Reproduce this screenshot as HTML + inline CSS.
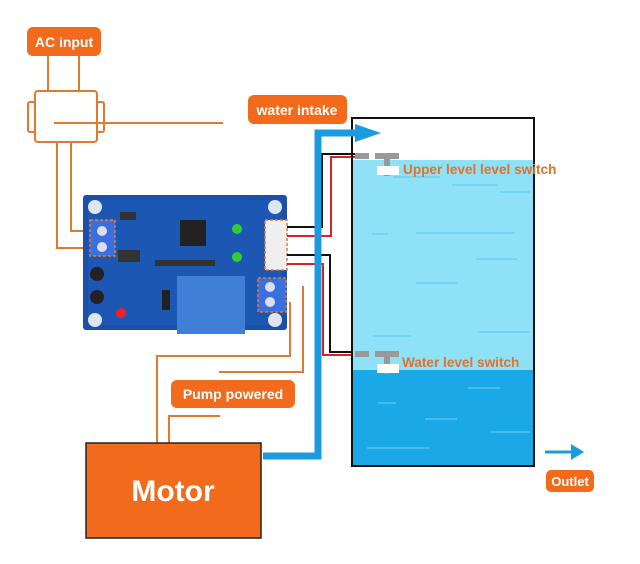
<!DOCTYPE html>
<html><head><meta charset="utf-8"><style>
html,body{margin:0;padding:0;background:#fff;}
svg{display:block;}
text{font-family:"Liberation Sans",sans-serif;font-weight:bold;}
</style></head><body>
<svg width="640" height="564" viewBox="0 0 640 564" xmlns="http://www.w3.org/2000/svg">
<!-- AC input -->
<rect x="27" y="27" width="74" height="29" rx="6" fill="#f26a1b"/>
<text x="64" y="47" font-size="14" fill="#fff" text-anchor="middle">AC input</text>
<g stroke="#e07a30" stroke-width="2" fill="none">
<line x1="48" y1="56" x2="48" y2="90"/>
<line x1="79" y1="56" x2="79" y2="90"/>
<rect x="35" y="91" width="62" height="51" rx="3"/>
<rect x="28" y="102" width="7" height="30" rx="2"/>
<rect x="97" y="102" width="7" height="30" rx="2"/>
<line x1="54" y1="123" x2="223" y2="123"/>
<polyline points="57,142 57,248 92,248"/>
<polyline points="71,142 71,231 92,231"/>
<polyline points="157,443 157,356 290,356 290,302"/>
<polyline points="219,372 303,372 303,286"/>
<polyline points="169,443 169,416 220,416"/>
</g>
<!-- board -->
<rect x="83" y="195" width="204" height="135" rx="3" fill="#1b4fa8"/>
<rect x="88" y="200" width="194" height="125" fill="#2060c0" opacity="0.5"/>
<g fill="#dfe6ee"><circle cx="95" cy="207" r="7"/><circle cx="275" cy="207" r="7"/><circle cx="95" cy="320" r="7"/><circle cx="275" cy="320" r="7"/></g>
<rect x="90" y="220" width="25" height="36" fill="#3a6fe0" stroke="#e07a30" stroke-width="1.5" stroke-dasharray="3,2"/>
<circle cx="102" cy="231" r="5" fill="#dde"/><circle cx="102" cy="247" r="5" fill="#dde"/>
<rect x="180" y="220" width="26" height="26" fill="#222"/>
<circle cx="237" cy="229" r="5" fill="#3c3"/><circle cx="237" cy="257" r="5" fill="#3c3"/>
<circle cx="121" cy="313" r="5" fill="#e22"/>
<circle cx="97" cy="274" r="7" fill="#222"/><circle cx="97" cy="297" r="7" fill="#222"/>
<rect x="177" y="276" width="68" height="58" fill="#3f7fd8"/>
<rect x="162" y="290" width="8" height="20" fill="#222"/>
<rect x="265" y="220" width="22" height="50" fill="#eee" stroke="#e07a30" stroke-width="1.5" stroke-dasharray="3,2"/>
<rect x="258" y="278" width="28" height="34" fill="#3a6fe0" stroke="#e07a30" stroke-width="1.5" stroke-dasharray="3,2"/>
<circle cx="270" cy="287" r="5" fill="#dde"/><circle cx="270" cy="302" r="5" fill="#dde"/>
<g fill="#333"><rect x="155" y="260" width="60" height="6"/><rect x="120" y="212" width="16" height="8"/><rect x="118" y="250" width="22" height="12"/></g>
<!-- level wires -->
<g fill="none" stroke-width="2">
<polyline points="287,227 322,227 322,154 357,154" stroke="#111"/>
<polyline points="287,236 331,236 331,157 357,157" stroke="#d22"/>
<polyline points="287,255 330,255 330,352 357,352" stroke="#111"/>
<polyline points="287,264 323,264 323,355 357,355" stroke="#d22"/>
</g>
<!-- tank -->
<rect x="352" y="160" width="182" height="210" fill="#8fe1f8"/>
<rect x="352" y="370" width="182" height="96" fill="#1aa8e6"/>
<g stroke="#5cc8ee" stroke-width="1">
<line x1="393" y1="177" x2="440" y2="177"/><line x1="452" y1="185" x2="498" y2="185"/><line x1="500" y1="192" x2="530" y2="192"/>
<line x1="372" y1="234" x2="388" y2="234"/><line x1="416" y1="233" x2="515" y2="233"/><line x1="476" y1="259" x2="517" y2="259"/>
<line x1="416" y1="283" x2="457" y2="283"/><line x1="373" y1="336" x2="411" y2="336"/><line x1="478" y1="332" x2="530" y2="332"/>
</g>
<g stroke="#6fd0f2" stroke-width="1">
<line x1="468" y1="388" x2="500" y2="388"/><line x1="378" y1="403" x2="396" y2="403"/><line x1="425" y1="419" x2="457" y2="419"/>
<line x1="491" y1="432" x2="530" y2="432"/><line x1="367" y1="448" x2="430" y2="448"/>
</g>
<rect x="352" y="118" width="182" height="348" fill="none" stroke="#111" stroke-width="2"/>
<!-- switches -->
<g fill="#999">
<rect x="355" y="153" width="14" height="6"/><rect x="375" y="153" width="24" height="6"/><rect x="384" y="159" width="6" height="17"/>
<rect x="355" y="351" width="14" height="6"/><rect x="375" y="351" width="24" height="6"/><rect x="384" y="357" width="6" height="17"/>
</g>
<rect x="377" y="166" width="22" height="9" fill="#fff"/>
<rect x="377" y="364" width="22" height="9" fill="#fff"/>
<text x="403" y="174" font-size="13.6" fill="#e0722a">Upper level level switch</text>
<text x="402" y="367" font-size="13.6" fill="#e0722a">Water level switch</text>
<!-- blue pipe -->
<polyline points="263,456 318,456 318,133 360,133" fill="none" stroke="#1a9be0" stroke-width="7"/>
<polygon points="355,124 381,133 355,142" fill="#1a9be0"/>
<line x1="545" y1="452" x2="575" y2="452" stroke="#1a9be0" stroke-width="3"/>
<polygon points="571,444 584,452 571,460" fill="#1a9be0"/>
<!-- labels -->
<rect x="248" y="95" width="99" height="29" rx="6" fill="#f26a1b"/>
<text x="297" y="115" font-size="14" fill="#fff" text-anchor="middle">water intake</text>
<rect x="171" y="380" width="124" height="28" rx="6" fill="#f26a1b"/>
<text x="233" y="399" font-size="14" fill="#fff" text-anchor="middle">Pump powered</text>
<rect x="546" y="470" width="48" height="22" rx="5" fill="#f26a1b"/>
<text x="570" y="486" font-size="13" fill="#fff" text-anchor="middle">Outlet</text>
<!-- motor -->
<rect x="86" y="443" width="175" height="95" fill="#f26a1b" stroke="#222" stroke-width="1.5"/>
<text x="173" y="501" font-size="30" fill="#fff" text-anchor="middle">Motor</text>
</svg>
</body></html>
